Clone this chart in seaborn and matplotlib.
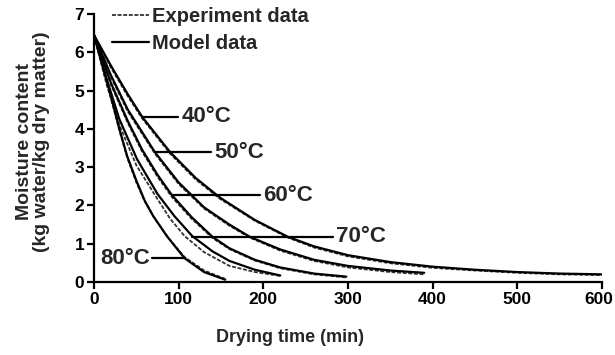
import matplotlib
matplotlib.use("Agg")
import matplotlib.pyplot as plt
from matplotlib.lines import Line2D
from matplotlib.transforms import ScaledTranslation
import seaborn as sns

# ---- data ----
t80_model = [0, 10, 20, 30, 39, 50, 60, 70, 86, 107, 130, 155]
m80_model = [6.45, 5.65, 4.85, 4.0, 3.3, 2.65, 2.12, 1.72, 1.2, 0.62, 0.26, 0.06]
t80_exp = [0, 10, 20, 30, 40, 50, 60, 72, 88, 107, 130, 155]
m80_exp = [6.45, 5.6, 4.8, 3.95, 3.2, 2.6, 2.1, 1.65, 1.15, 0.65, 0.3, 0.08]

t70_model = [0, 15, 30, 51, 75, 95, 116, 140, 160, 190, 220]
m70_model = [6.45, 5.3, 4.25, 3.2, 2.3, 1.72, 1.2, 0.8, 0.55, 0.32, 0.17]
t70_exp = [0, 15, 30, 50, 74, 90, 107, 130, 160, 190, 220]
m70_exp = [6.45, 5.15, 4.1, 3.05, 2.2, 1.65, 1.2, 0.78, 0.42, 0.26, 0.16]

t60_model = [0, 20, 40, 57, 75, 92, 115, 140, 160, 190, 220, 260, 298]
m60_model = [6.45, 5.2, 4.2, 3.45, 2.8, 2.27, 1.7, 1.18, 0.88, 0.58, 0.38, 0.22, 0.14]
t60_exp = [0, 20, 40, 57, 75, 92, 115, 140, 160, 190, 220, 260, 298]
m60_exp = [6.45, 5.15, 4.15, 3.4, 2.75, 2.22, 1.66, 1.15, 0.86, 0.56, 0.36, 0.2, 0.12]

t50_model = [0, 20, 40, 72, 100, 130, 160, 184, 220, 260, 300, 350, 390]
m50_model = [6.45, 5.4, 4.5, 3.39, 2.6, 1.95, 1.5, 1.18, 0.85, 0.58, 0.42, 0.3, 0.24]
t50_exp = [0, 20, 40, 72, 100, 130, 160, 184, 220, 260, 300, 350, 390]
m50_exp = [6.45, 5.35, 4.45, 3.35, 2.56, 1.92, 1.47, 1.16, 0.82, 0.55, 0.38, 0.26, 0.2]

t40_model = [0, 20, 40, 57, 90, 120, 149, 190, 229, 260, 300, 350, 400, 450, 500, 550, 600]
m40_model = [6.45, 5.65, 4.9, 4.31, 3.39, 2.72, 2.2, 1.62, 1.18, 0.93, 0.7, 0.52, 0.4, 0.32, 0.26, 0.22, 0.2]
t40_exp = [0, 20, 40, 57, 90, 120, 149, 190, 229, 260, 300, 350, 400, 450, 500, 550, 600]
m40_exp = [6.45, 5.6, 4.85, 4.27, 3.35, 2.68, 2.17, 1.6, 1.16, 0.9, 0.67, 0.49, 0.37, 0.3, 0.24, 0.2, 0.18]

temp_labels = ["40°C", "50°C", "60°C", "70°C", "80°C"]
label_y = [4.31, 3.39, 2.27, 1.18, 0.62]
leader_start = [57, 72, 92, 116, 107]
leader_end = [99, 138, 196, 282, 68]

x_ticks = [0, 100, 200, 300, 400, 500, 600]
y_ticks = [0, 1, 2, 3, 4, 5, 6, 7]

# ---- styling ----
sns.set_theme(style="ticks")
FAM = ["Liberation Sans", "DejaVu Sans"]
plt.rcParams["font.family"] = FAM
plt.rcParams["font.weight"] = "bold"
FS_TICK = 12.5
FS_XLAB = 13
FS_YLAB = 14
FS_LEG = 14.5
FS_TEMP = 16
LW = 1.6

fig = plt.figure(figsize=(6.15, 3.55), dpi=100)
ax = fig.add_axes([94 / 615, 1 - 282 / 355, 508 / 615, 268 / 355])

models = [(t40_model, m40_model), (t50_model, m50_model), (t60_model, m60_model),
          (t70_model, m70_model), (t80_model, m80_model)]
exps = [(t40_exp, m40_exp), (t50_exp, m50_exp), (t60_exp, m60_exp),
        (t70_exp, m70_exp), (t80_exp, m80_exp)]

exp_style = (0, (2.2, 0.9))
for t, m in exps:
    sns.lineplot(x=t, y=m, ax=ax, color="#333333", lw=1.3, linestyle=exp_style,
                 estimator=None, sort=False)
for t, m in models:
    sns.lineplot(x=t, y=m, ax=ax, color="black", lw=LW, estimator=None, sort=False)

# leader lines + labels
for lab, yv, xs, xe in zip(temp_labels, label_y, leader_start, leader_end):
    sns.lineplot(x=[xs, xe], y=[yv, yv], ax=ax, color="black", lw=LW,
                 estimator=None, sort=False)
    if xe > xs:
        ax.text(xe + 4, yv, lab, fontsize=FS_TEMP, fontweight="bold", va="center", ha="left")
    else:
        ax.text(xe - 2, yv, lab, fontsize=FS_TEMP, fontweight="bold", va="center", ha="right")

ax.set_xlim(0, 600)
ax.set_ylim(0, 7)
ax.set_xticks(x_ticks)
ax.set_yticks(y_ticks)
ax.tick_params(axis="both", direction="out", length=5, width=LW, labelsize=FS_TICK, pad=2,
               color="black", labelcolor="black")
for lbl in ax.get_xticklabels() + ax.get_yticklabels():
    lbl.set_fontweight("bold")
# keep the last x tick label inside the canvas
last = ax.get_xticklabels()[-1]
last.set_transform(last.get_transform() + ScaledTranslation(-3 / 100, 0, fig.dpi_scale_trans))

for s in ["top", "right"]:
    ax.spines[s].set_visible(False)
for s in ["left", "bottom"]:
    ax.spines[s].set_linewidth(LW)
    ax.spines[s].set_color("black")

ax.set_xlabel("Drying time (min)", fontsize=FS_XLAB, fontweight="bold")
ax.xaxis.set_label_coords((290 - 94) / 508, (282 - 338) / 268)
ax.set_ylabel("Moisture content\n(kg water/kg dry matter)", fontsize=FS_YLAB, fontweight="bold",
              linespacing=1.0)
ax.yaxis.set_label_coords((33 - 94) / 508, (282 - 142) / 268)
ax.xaxis.label.set_va("center")
ax.yaxis.label.set_va("center")

handles = [Line2D([], [], color="#333333", lw=1.3, linestyle=exp_style),
           Line2D([], [], color="black", lw=LW)]
leg = ax.legend(handles, ["Experiment data", "Model data"], loc="upper left",
                bbox_to_anchor=(112 / 615, 1 - 7 / 355), bbox_transform=fig.transFigure,
                frameon=False, borderpad=0, borderaxespad=0, handlelength=1.85,
                handletextpad=0.15, labelspacing=0.4,
                prop={"size": FS_LEG, "weight": "bold", "family": FAM})

fig.savefig("out.png", dpi=100)
